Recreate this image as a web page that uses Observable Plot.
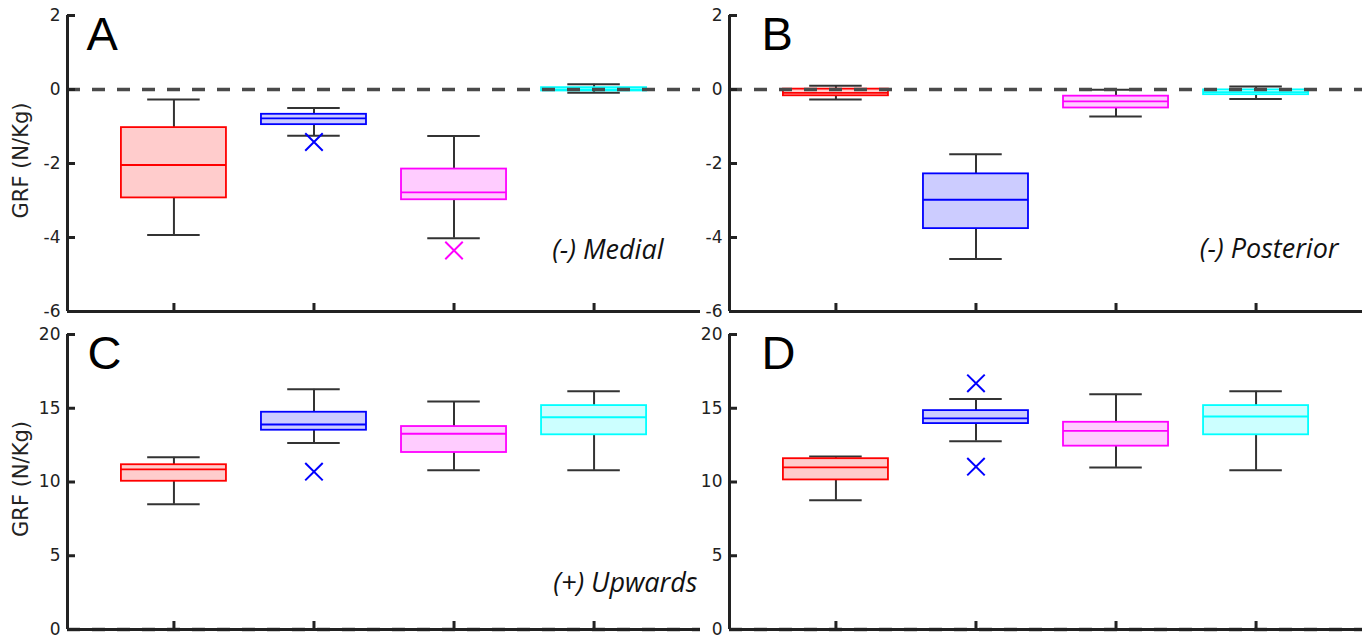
<!DOCTYPE html>
<html><head><meta charset="utf-8">
<script src="https://cdn.jsdelivr.net/npm/d3@7"></script>
<script src="https://cdn.jsdelivr.net/npm/@observablehq/plot@0.6"></script>
<style>
body{margin:0;background:#fff;}
#wrap{position:relative;width:1364px;height:639px;overflow:hidden;background:#fff;}
#wrap svg{position:absolute;}
</style></head><body><div id="wrap"></div>
<script>
// ---- data ----
const categories = [1, 2, 3, 4];
const groupColors = ["#ff0000", "#0000ff", "#ff00ff", "#00ffff"];
const groupFills  = ["#ffcccc", "#ccccff", "#ffccff", "#ccffff"];
const yTicksTop = [-6, -4, -2, 0, 2];
const yTicksBottom = [0, 5, 10, 15, 20];
const yLabel = "GRF (N/Kg)";
const panelLetters = ["A", "B", "C", "D"];
const panelNotes = ["(-) Medial", "(-) Posterior", "(+) Upwards", ""];

// Panel A (medial)
const aLow  = [-3.93, -1.25, -4.02, -0.09];
const aQ1   = [-2.93, -0.95, -2.98, -0.04];
const aMed  = [-2.04, -0.78, -2.78,  0.00];
const aQ3   = [-1.03, -0.67, -2.15,  0.05];
const aHigh = [-0.27, -0.50, -1.26,  0.14];
const aOutCat = [2, 3];
const aOutVal = [-1.42, -4.35];

// Panel B (posterior)
const bLow  = [-0.27, -4.58, -0.73, -0.26];
const bQ1   = [-0.17, -3.76, -0.50, -0.14];
const bMed  = [-0.09, -2.98, -0.32, -0.07];
const bQ3   = [ 0.01, -2.28, -0.18, -0.01];
const bHigh = [ 0.10, -1.75, -0.01,  0.08];
const bOutCat = [];
const bOutVal = [];

// Panel C (upwards)
const cLow  = [ 8.49, 12.64, 10.79, 10.79];
const cQ1   = [10.05, 13.51, 12.00, 13.20];
const cMed  = [10.86, 13.90, 13.27, 14.39];
const cQ3   = [11.17, 14.73, 13.76, 15.18];
const cHigh = [11.67, 16.28, 15.45, 16.15];
const cOutCat = [2];
const cOutVal = [10.70];

// Panel D (upwards)
const dLow  = [ 8.76, 12.77, 10.99, 10.79];
const dQ1   = [10.14, 13.96, 12.43, 13.20];
const dMed  = [10.99, 14.32, 13.47, 14.44];
const dQ3   = [11.58, 14.84, 14.05, 15.18];
const dHigh = [11.73, 15.63, 15.95, 16.15];
const dOutCat = [2, 2];
const dOutVal = [16.69, 11.04];

// ---- drawing ----
const xDomain = [0.24, 4.76];
const boxHalf = 0.375, capHalf = 0.1875;
const axisColor = "#222";
const whiskerColor = "#333";
const tickFont = "DejaVu Sans, Liberation Sans, sans-serif";

function panel(p) {
  const rows = categories.map((c, i) => ({
    c, lo: p.low[i], q1: p.q1[i], med: p.med[i], q3: p.q3[i], hi: p.high[i],
    color: groupColors[i], fill: groupFills[i]
  }));
  const outs = p.outCat.map((c, i) => ({c, v: p.outVal[i], color: groupColors[c - 1]}));
  const marks = [
    Plot.ruleX(rows, {x: "c", y1: "lo", y2: "q1", stroke: whiskerColor, strokeWidth: 2}),
    Plot.ruleX(rows, {x: "c", y1: "q3", y2: "hi", stroke: whiskerColor, strokeWidth: 2}),
    Plot.ruleY(rows, {y: "lo", x1: d => d.c - capHalf, x2: d => d.c + capHalf, stroke: whiskerColor, strokeWidth: 2}),
    Plot.ruleY(rows, {y: "hi", x1: d => d.c - capHalf, x2: d => d.c + capHalf, stroke: whiskerColor, strokeWidth: 2}),
    Plot.rect(rows, {x1: d => d.c - boxHalf, x2: d => d.c + boxHalf, y1: "q1", y2: "q3", fill: "fill", stroke: "color", strokeWidth: 1.8}),
    Plot.ruleY(rows, {y: "med", x1: d => d.c - boxHalf, x2: d => d.c + boxHalf, stroke: "color", strokeWidth: 1.8}),
    Plot.dot(outs, {x: "c", y: "v", symbol: "times", r: 8, stroke: "color", strokeWidth: 2}),
    Plot.ruleY([0], {stroke: "#4a4a4a", strokeWidth: 3.5, strokeDasharray: "13,12"}),
    Plot.axisY({ticks: p.yTicks, tickSize: 0, tickPadding: 7, fontSize: 17, fontFamily: tickFont, fill: axisColor,
      tickFormat: d => String(d), label: null}),
    Plot.axisY({ticks: p.yTicks, tickSize: -8, tickFormat: () => "", stroke: axisColor, strokeWidth: 3, label: null}),
    Plot.axisX({ticks: categories, tickSize: -8, tickFormat: () => "", stroke: axisColor, strokeWidth: 3, label: null}),
    Plot.ruleX([xDomain[0]], {stroke: axisColor, strokeWidth: 3}),
    Plot.ruleY([p.yDomain[0]], {stroke: axisColor, strokeWidth: 3}),
    Plot.text([p.letter], {text: d => d, frameAnchor: "top-left", textAnchor: "start", lineAnchor: "top",
      dx: p.letterDx, dy: 1, fontSize: 47, fontFamily: "Liberation Sans, Arial, sans-serif", fill: "#000"})
  ];
  if (p.note) marks.push(Plot.text([p.note], {text: d => d, frameAnchor: "bottom-right", textAnchor: "end", lineAnchor: "bottom",
      dx: p.noteDx, dy: p.noteDy, fontSize: 27, fontStyle: "italic", fontFamily: "Open Sans, sans-serif", fill: "#111"}));
  if (p.showLabel) marks.push(Plot.text([yLabel], {text: d => d, frameAnchor: "left", rotate: -90, textAnchor: "middle",
      dx: -46, dy: -3, fontSize: 21, fontFamily: tickFont, fill: "#222"}));
  const svg = Plot.plot({
    width: p.width, height: p.height,
    marginLeft: 67, marginRight: p.mr, marginTop: p.mt, marginBottom: p.mb,
    x: {type: "linear", domain: xDomain, label: null},
    y: {domain: p.yDomain, label: null},
    color: {type: "identity"},
    style: {background: "transparent", overflow: "visible", fontFamily: tickFont},
    marks
  });
  svg.style.left = p.left + "px";
  svg.style.top = p.top + "px";
  document.getElementById("wrap").appendChild(svg);
}

panel({low: aLow, q1: aQ1, med: aMed, q3: aQ3, high: aHigh, outCat: aOutCat, outVal: aOutVal,
  yDomain: [-6, 2], yTicks: yTicksTop, letter: panelLetters[0], letterDx: 19, note: panelNotes[0], noteDx: -37, noteDy: -53,
  showLabel: true, left: 0, top: 0, width: 700, height: 320, mt: 15, mb: 9, mr: 0});
panel({low: bLow, q1: bQ1, med: bMed, q3: bQ3, high: bHigh, outCat: bOutCat, outVal: bOutVal,
  yDomain: [-6, 2], yTicks: yTicksTop, letter: panelLetters[1], letterDx: 32, note: panelNotes[1], noteDx: -24, noteDy: -54,
  showLabel: false, left: 662, top: 0, width: 702, height: 320, mt: 15, mb: 9, mr: 2});
panel({low: cLow, q1: cQ1, med: cMed, q3: cQ3, high: cHigh, outCat: cOutCat, outVal: cOutVal,
  yDomain: [0, 20], yTicks: yTicksBottom, letter: panelLetters[2], letterDx: 20, note: panelNotes[2], noteDx: -3, noteDy: -38,
  showLabel: true, left: 0, top: 320, width: 700, height: 319, mt: 14, mb: 10, mr: 0});
panel({low: dLow, q1: dQ1, med: dMed, q3: dQ3, high: dHigh, outCat: dOutCat, outVal: dOutVal,
  yDomain: [0, 20], yTicks: yTicksBottom, letter: panelLetters[3], letterDx: 32, note: panelNotes[3], noteDx: 0, noteDy: 0,
  showLabel: false, left: 662, top: 320, width: 702, height: 319, mt: 14, mb: 10, mr: 2});
</script></body></html>
